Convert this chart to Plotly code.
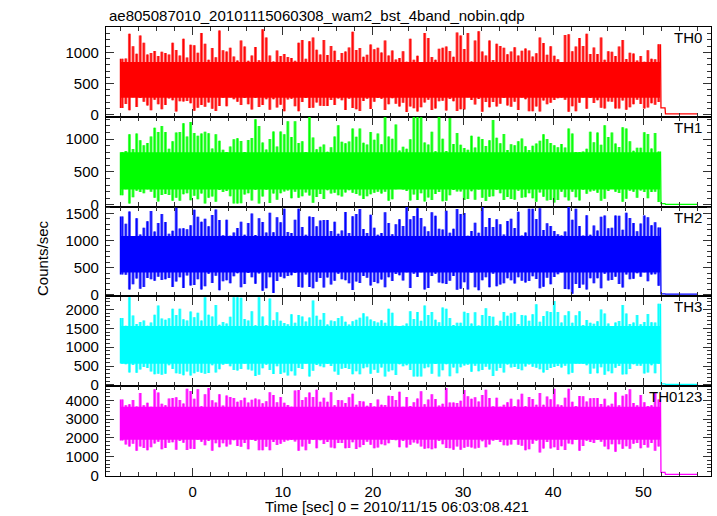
import numpy as np
import plotly.graph_objects as go
from plotly.subplots import make_subplots

# ---------------- data ----------------
title_text = "ae805087010_20101115060308_wam2_bst_4band_nobin.qdp"
xlabel = "Time [sec] 0 = 2010/11/15 06:03:08.421"
ylabel = "Counts/sec"
band_names = ["TH0", "TH1", "TH2", "TH3", "TH0123"]
band_colors = ["#ff0000", "#00ff00", "#0000ff", "#00ffff", "#ff00ff"]
band_rgb = [(255, 0, 0), (0, 255, 0), (0, 0, 255), (0, 255, 255), (255, 0, 255)]

t_start, t_stop = -8.0, 51.9          # time span of the active light curve (s)
tail_t = [51.95, 52.4, 52.45, 55.95]  # after the end of the data

# per-bin local maxima / minima of each band's rate (counts/sec)
th0_hi = [896, 900, 1300, 1100, 980, 1270, 1156, 968, 992, 1024,
          944, 1012, 992, 968, 1156, 1040, 952, 1220, 916, 1124,
          1116, 996, 1310, 1140, 880, 1072, 920, 1350, 1036, 1016,
          1076, 932, 868, 1190, 1096, 864, 952, 1088, 872, 1370,
          1240, 952, 852, 1032, 940, 976, 924, 908, 864, 1156,
          1200, 896, 1180, 1240, 1044, 968, 1200, 960, 1104, 1028,
          876, 992, 1016, 1080, 1330, 1040, 1072, 928, 964, 1128,
          1052, 1076, 1000, 1190, 952, 1032, 884, 908, 1020, 848,
          1220, 880, 948, 844, 1310, 1230, 924, 880, 1060, 1076,
          1096, 1024, 928, 1320, 1270, 1056, 1310, 852, 1190, 1340,
          1016, 952, 1190, 876, 1140, 1104, 1076, 972, 1016, 1084,
          952, 1028, 1064, 1032, 932, 988, 1240, 1152, 964, 1100,
          948, 888, 844, 1280, 1290, 1020, 1096, 1230, 1104, 1300,
          976, 1080, 976, 1240, 880, 1020, 1012, 944, 1096, 1200,
          892, 996, 984, 868, 944, 848, 1036, 896, 888, 1132]
th0_lo = [107, 172, 71, 280, 122, 266, 206, 148, 69, 239,
          165, 86, 155, 258, 232, 50, 213, 210, 220, 184,
          62, 110, 153, 126, 194, 93, 59, 138, 273, 136,
          278, 249, 208, 153, 268, 165, 83, 270, 122, 155,
          249, 78, 246, 114, 158, 54, 244, 254, 136, 54,
          201, 268, 107, 112, 194, 143, 138, 138, 234, 153,
          258, 230, 74, 254, 105, 86, 57, 218, 254, 90,
          206, 268, 254, 76, 165, 263, 174, 131, 191, 42,
          131, 102, 52, 119, 196, 237, 76, 100, 215, 222,
          66, 251, 215, 57, 86, 81, 278, 234, 162, 251,
          45, 201, 119, 201, 131, 174, 266, 146, 126, 208,
          74, 275, 249, 54, 54, 129, 52, 227, 167, 191,
          234, 263, 275, 239, 45, 136, 54, 191, 275, 95,
          268, 186, 230, 110, 98, 210, 206, 98, 100, 225,
          78, 119, 165, 237, 170, 98, 114, 184, 158, 203]
th0_core = [270, 845]
th0_tail = [110, 110, 12, 12]

th1_hi = [800, 820, 1072, 848, 1084, 980, 904, 940, 1040, 1170,
          1108, 1200, 1108, 852, 968, 1100, 1108, 1240, 1040, 1260,
          1092, 1052, 1084, 1112, 1088, 856, 1072, 976, 836, 804,
          888, 996, 1012, 972, 804, 984, 1016, 1300, 1200, 948,
          840, 1000, 1116, 888, 1116, 1072, 1270, 1032, 1270, 940,
          968, 804, 1338, 1024, 844, 884, 916, 808, 876, 1040,
          1210, 960, 936, 964, 1160, 1036, 1160, 944, 916, 1108,
          988, 1084, 920, 1338, 1040, 1004, 1220, 828, 884, 852,
          996, 1338, 1338, 1330, 948, 916, 1112, 816, 1338, 1004,
          820, 1320, 924, 1092, 912, 864, 836, 1052, 872, 1036,
          1000, 896, 980, 1290, 1020, 936, 1076, 832, 920, 904,
          968, 1008, 892, 832, 900, 932, 976, 1072, 1000, 940,
          904, 876, 924, 872, 1160, 1084, 804, 800, 812, 852,
          1112, 952, 1100, 912, 1210, 1032, 1100, 932, 880, 1180,
          1160, 968, 824, 868, 868, 1104, 1076, 856, 1092, 812]
th1_lo = [148, 238, 22, 117, 216, 194, 176, 236, 198, 108,
          51, 152, 165, 150, 62, 110, 62, 161, 176, 71,
          137, 84, 174, 22, 108, 128, 49, 225, 194, 211,
          132, 22, 22, 24, 159, 176, 68, 231, 22, 128,
          229, 27, 172, 79, 178, 205, 220, 101, 200, 110,
          130, 187, 141, 33, 119, 165, 88, 222, 174, 183,
          148, 126, 189, 222, 185, 167, 143, 90, 130, 163,
          183, 198, 172, 200, 62, 84, 238, 240, 233, 211,
          68, 156, 75, 178, 51, 112, 75, 167, 196, 57,
          62, 148, 227, 203, 203, 73, 88, 209, 79, 233,
          110, 60, 123, 132, 231, 178, 75, 121, 90, 79,
          216, 110, 117, 178, 101, 46, 189, 123, 68, 75,
          35, 75, 198, 115, 68, 200, 115, 68, 229, 170,
          203, 214, 183, 64, 95, 211, 240, 198, 181, 49,
          95, 216, 198, 110, 220, 194, 99, 196, 198, 44]
th1_core = [235, 800]
th1_tail = [20, 20, 8, 8]

th2_hi = [1440, 1305, 1533, 1080, 1410, 1110, 1235, 1355, 1540, 1165,
          1320, 1488, 1340, 1125, 1180, 1600, 1220, 1225, 1205, 1280,
          1563, 1435, 1345, 1400, 1260, 1470, 1570, 1375, 1095, 1380,
          1085, 1145, 1230, 1345, 1105, 1320, 1495, 1100, 1410, 1340,
          1145, 1510, 1150, 1425, 1335, 1585, 1155, 1135, 1380, 1585,
          1245, 1105, 1440, 1430, 1260, 1365, 1375, 1375, 1175, 1345,
          1125, 1185, 1525, 1135, 1445, 1488, 1578, 1210, 1135, 1475,
          1235, 1105, 1135, 1518, 1320, 1115, 1300, 1390, 1265, 1623,
          1390, 1450, 1593, 1415, 1255, 1170, 1518, 1455, 1215, 1200,
          1548, 1140, 1215, 1578, 1488, 1503, 1085, 1175, 1325, 1140,
          1623, 1245, 1415, 1245, 1390, 1300, 1110, 1360, 1400, 1230,
          1530, 1090, 1145, 1585, 1585, 1395, 1593, 1190, 1315, 1265,
          1175, 1115, 1090, 1165, 1623, 1380, 1585, 1265, 1090, 1465,
          1105, 1275, 1185, 1435, 1460, 1225, 1235, 1460, 1455, 1195,
          1510, 1415, 1320, 1170, 1310, 1460, 1425, 1280, 1335, 1240]
th2_lo = [371, 367, 98, 192, 297, 108, 143, 308, 287, 259,
          329, 269, 287, 308, 143, 245, 322, 126, 353, 171,
          178, 283, 94, 157, 385, 217, 350, 80, 248, 266,
          213, 339, 395, 136, 196, 399, 322, 203, 392, 73,
          119, 322, 30, 252, 332, 301, 346, 360, 399, 143,
          133, 371, 140, 119, 241, 308, 133, 315, 189, 255,
          388, 287, 266, 210, 87, 245, 217, 343, 311, 168,
          234, 213, 280, 136, 322, 252, 381, 360, 262, 413,
          126, 385, 325, 416, 94, 122, 346, 385, 227, 213,
          196, 259, 343, 91, 108, 231, 94, 409, 136, 84,
          266, 322, 136, 388, 157, 189, 213, 304, 266, 206,
          322, 255, 224, 252, 339, 290, 119, 147, 311, 192,
          325, 378, 416, 105, 101, 20, 196, 122, 189, 98,
          301, 210, 301, 119, 385, 262, 269, 329, 196, 133,
          374, 283, 294, 395, 329, 413, 248, 371, 378, 164]
th2_core = [410, 1080]
th2_tail = [15, 15, 10, 10]

th3_hi = [1770, 1565, 2323, 1840, 1615, 1665, 1705, 1570, 1655, 1860,
          2102, 1760, 1730, 1765, 2017, 1855, 2017, 1740, 1705, 1945,
          1795, 1915, 1710, 2323, 1860, 1815, 2119, 1595, 1665, 1625,
          1805, 2323, 2323, 2306, 1745, 1705, 1950, 1580, 2323, 1815,
          1585, 2289, 1715, 1925, 1700, 1640, 1605, 1875, 1650, 1855,
          1810, 1680, 1785, 2238, 1835, 1730, 1905, 1600, 1710, 1690,
          1770, 1820, 1675, 1600, 1685, 1725, 1780, 1900, 1810, 1735,
          1690, 1655, 1715, 1650, 2017, 1915, 1565, 1560, 1575, 1625,
          1950, 1750, 1935, 1700, 2102, 1850, 1935, 1725, 1660, 2051,
          2017, 1770, 1590, 1645, 1645, 1940, 1905, 1630, 1925, 1575,
          1855, 2034, 1825, 1805, 1580, 1700, 1935, 1830, 1900, 1925,
          1615, 1855, 1840, 1700, 1875, 2136, 1675, 1825, 1950, 1935,
          2221, 1935, 1655, 1845, 1950, 1650, 1845, 1950, 1585, 1720,
          1645, 1620, 1690, 2000, 1890, 1625, 1560, 1655, 1695, 2119,
          1890, 1615, 1655, 1855, 1605, 1665, 1880, 1660, 1655, 2153]
th3_lo = [570, 552, 332, 528, 322, 412, 479, 448, 360, 283,
          300, 272, 300, 524, 423, 308, 300, 258, 360, 252,
          314, 350, 322, 297, 318, 521, 332, 416, 538, 566,
          493, 398, 384, 420, 566, 409, 381, 238, 272, 440,
          535, 395, 294, 493, 294, 332, 248, 367, 248, 448,
          423, 566, 224, 374, 532, 496, 468, 563, 504, 360,
          269, 430, 451, 426, 286, 364, 286, 444, 468, 300,
          406, 322, 465, 224, 360, 392, 266, 546, 496, 524,
          398, 224, 224, 227, 440, 468, 297, 556, 224, 392,
          552, 230, 462, 314, 472, 514, 538, 350, 507, 364,
          395, 486, 412, 241, 378, 451, 328, 542, 465, 479,
          423, 388, 490, 542, 482, 454, 416, 332, 395, 448,
          479, 504, 462, 507, 286, 322, 566, 570, 560, 524,
          297, 437, 308, 472, 269, 367, 308, 454, 500, 280,
          286, 423, 549, 510, 510, 304, 328, 521, 314, 560]
th3_core = [560, 1560]
th3_tail = [30, 30, 15, 15]

th4_hi = [4034, 3738, 3786, 4010, 3666, 4388, 3730, 3866, 3658, 4586,
          4410, 3818, 3730, 4090, 4122, 4162, 4018, 3826, 4608, 4498,
          4082, 4586, 3674, 4322, 4652, 4002, 3874, 4322, 3722, 4250,
          4178, 4122, 3914, 4002, 4138, 3874, 4026, 4098, 4034, 3834,
          3946, 4432, 4274, 3898, 4170, 3866, 3746, 3658, 4520, 4542,
          4010, 4162, 4410, 4178, 4564, 3922, 4130, 3922, 4432, 3730,
          4010, 3994, 3858, 4162, 4344, 3754, 3962, 3938, 3706, 3858,
          3666, 4042, 3762, 3746, 4234, 4226, 4010, 4454, 3650, 4178,
          3698, 3898, 4090, 4476, 3786, 4034, 4322, 4066, 3722, 3810,
          4652, 3874, 3882, 3850, 3970, 4542, 4218, 4074, 4162, 3938,
          4274, 4564, 4122, 3674, 4130, 3658, 3754, 3890, 4074, 3690,
          4034, 4344, 3682, 4178, 4066, 3754, 4388, 3762, 4202, 4058,
          4608, 3770, 3738, 4130, 4608, 3914, 3690, 4226, 4210, 3938,
          4106, 4122, 4122, 3802, 4074, 3722, 3818, 4432, 3738, 4234,
          4322, 4586, 3858, 3738, 4282, 3898, 3690, 3738, 4410, 4034]
th4_lo = [1858, 1636, 1528, 1678, 1306, 1528, 1456, 1330, 1498, 1690,
          1792, 1390, 1450, 1738, 1756, 1366, 1828, 1738, 1342, 1414,
          1402, 1894, 1786, 1606, 1828, 1312, 1702, 1498, 1702, 1528,
          1636, 1864, 1564, 1516, 1720, 1384, 1888, 1822, 1336, 1336,
          1522, 1330, 1768, 1618, 1678, 1786, 1858, 1888, 1798, 1312,
          1540, 1336, 1678, 1888, 1438, 1870, 1666, 1774, 1474, 1444,
          1726, 1714, 1444, 1450, 1762, 1396, 1498, 1612, 1792, 1624,
          1444, 1486, 1660, 1594, 1708, 1900, 1870, 1492, 1828, 1474,
          1630, 1744, 1690, 1540, 1408, 1438, 1390, 1438, 1822, 1648,
          1450, 1438, 1366, 1540, 1354, 1462, 1522, 1474, 1432, 1468,
          1816, 1492, 1636, 1846, 1894, 1768, 1606, 1582, 1642, 1894,
          1624, 1576, 1330, 1390, 1678, 1840, 1220, 1426, 1768, 1426,
          1492, 1348, 1552, 1348, 1690, 1648, 1894, 1306, 1564, 1834,
          1774, 1726, 1888, 1786, 1540, 1384, 1660, 1250, 1654, 1414,
          1546, 1414, 1684, 1726, 1438, 1618, 1474, 1720, 1306, 1540]
th4_core = [1890, 3650]
th4_tail = [150, 150, 45, 45]

y_ranges = [[-35, 1408], [-26, 1338], [-31, 1623], [-32, 2345], [-40, 4750]]
y_dticks = [500, 500, 500, 500, 1000]
y_minor = [100, 100, 100, 100, 200]
x_range = [-9.6, 57.5]

series = [
    (th0_hi, th0_lo, th0_core, th0_tail),
    (th1_hi, th1_lo, th1_core, th1_tail),
    (th2_hi, th2_lo, th2_core, th2_tail),
    (th3_hi, th3_lo, th3_core, th3_tail),
    (th4_hi, th4_lo, th4_core, th4_tail),
]

# ---------------- figure ----------------
W, H = 717, 516
ml, mr, mt, mb = 106, 6, 27, 40
pw, ph = W - ml - mr, H - mt - mb

fig = make_subplots(rows=5, cols=1, shared_xaxes=True, vertical_spacing=0)

FONT = "Liberation Sans, Arial, Helvetica, sans-serif"
TICKC = "#333333"

for i, (hi, lo, core, tail) in enumerate(series):
    n = min(len(hi), len(lo))
    dt = (t_stop - t_start) / n
    col = band_colors[i]
    r, g, b = band_rgb[i]
    xs, ys = [], []
    for k in range(n):
        tk = t_start + dt * (k + 0.5)
        xs += [tk, tk, None]
        ys += [lo[k], hi[k], None]
    # pale stroke per time bin (min..max of the bin)
    fig.add_trace(go.Scatter(
        x=xs, y=ys, mode="lines",
        line=dict(color=f"rgba({r},{g},{b},0.7)", width=3.0),
        connectgaps=False, hoverinfo="skip", showlegend=False), row=i + 1, col=1)
    # solid core of the dense noise band
    fig.add_trace(go.Scatter(
        x=[t_start + 0.05, t_stop - 0.05, t_stop - 0.05, t_start + 0.05],
        y=[core[0], core[0], core[1], core[1]],
        fill="toself", fillcolor=col, mode="lines", line=dict(width=0, color=col),
        hoverinfo="skip", showlegend=False), row=i + 1, col=1)
    # solid thin stroke per bin
    fig.add_trace(go.Scatter(
        x=xs, y=ys, mode="lines", line=dict(color=col, width=1.1),
        connectgaps=False, hoverinfo="skip", showlegend=False), row=i + 1, col=1)
    # start edge, end drop and the quiet tail after the burst data
    edge_x = [t_start, t_start, None, t_stop, t_stop] + tail_t
    edge_y = [lo[0], hi[0], None, hi[n - 1], lo[n - 1]] + tail
    fig.add_trace(go.Scatter(
        x=edge_x, y=edge_y, mode="lines", line=dict(color=col, width=1.3),
        connectgaps=False, hoverinfo="skip", showlegend=False), row=i + 1, col=1)

    fig.update_yaxes(
        range=y_ranges[i], dtick=y_dticks[i], tick0=0,
        ticks="inside", ticklen=8, tickwidth=1, tickcolor=TICKC,
        minor=dict(dtick=y_minor[i], ticks="inside", ticklen=4, tickcolor=TICKC, tickwidth=1),
        showline=True, linecolor="black", linewidth=1.3, mirror="allticks",
        showgrid=False, zeroline=False,
        tickfont=dict(family=FONT, size=15, color="black"),
        ticklabelstandoff=3,
        row=i + 1, col=1)
    fig.update_xaxes(
        range=x_range, dtick=10, tick0=0,
        ticks="inside", ticklen=8, tickwidth=1, tickcolor=TICKC,
        minor=dict(dtick=2, ticks="inside", ticklen=4, tickcolor=TICKC, tickwidth=1),
        showline=True, linecolor="black", linewidth=1.3, mirror="allticks",
        showgrid=False, zeroline=False,
        showticklabels=(i == 4),
        tickfont=dict(family=FONT, size=15, color="black"),
        ticklabelstandoff=2,
        row=i + 1, col=1)

    top = 1 - 0.2 * i
    fig.add_annotation(
        text=band_names[i], xref="paper", yref="paper",
        x=(704 - ml) / pw, y=top - 10.5 / ph, xanchor="right", yanchor="middle",
        showarrow=False, font=dict(family=FONT, size=15, color="black"))

fig.add_annotation(text=title_text, xref="paper", yref="paper",
                   x=(107 - ml) / pw, y=1 + (mt - 15) / ph, xanchor="left", yanchor="middle",
                   showarrow=False, font=dict(family=FONT, size=15, color="black"))
fig.add_annotation(text=xlabel, xref="paper", yref="paper",
                   x=(397 - ml) / pw, y=-(506.5 - (H - mb)) / ph, xanchor="center", yanchor="middle",
                   showarrow=False, font=dict(family=FONT, size=15, color="black"))
fig.add_annotation(text=ylabel, xref="paper", yref="paper", textangle=-90,
                   x=(42 - ml) / pw, y=(H - mb - 258) / ph, xanchor="center", yanchor="middle",
                   showarrow=False, font=dict(family=FONT, size=15, color="black"))

fig.update_layout(
    width=W, height=H, autosize=False,
    margin=dict(l=ml, r=mr, t=mt, b=mb, pad=0),
    paper_bgcolor="white", plot_bgcolor="white",
    showlegend=False,
    font=dict(family=FONT, size=15, color="black"),
)

fig.write_html("out.html", config={"displayModeBar": False},
               post_script="document.body.style.margin='0px';")
